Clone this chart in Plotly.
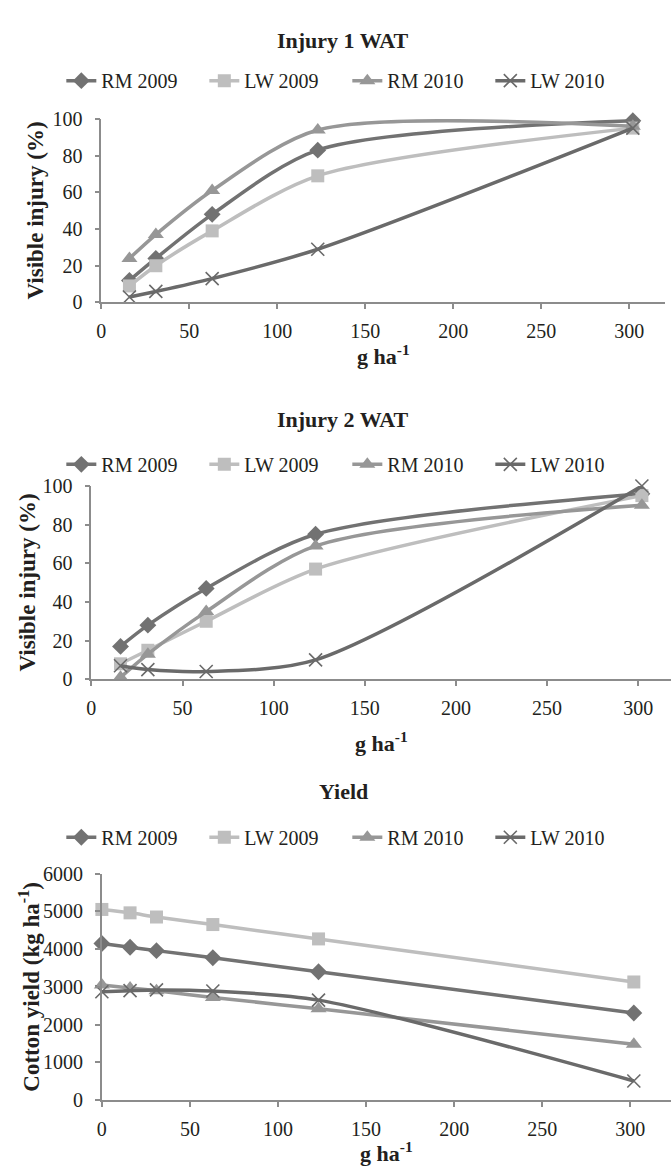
import plotly.graph_objects as go

# ---------------- data ----------------
series_names = ["RM 2009", "LW 2009", "RM 2010", "LW 2010"]

dose_injury = [16, 31, 63, 123, 302]
inj1_rm2009 = [12, 24, 48, 83, 99]
inj1_lw2009 = [9, 20, 39, 69, 95]
inj1_rm2010 = [24, 37, 61, 94, 96]
inj1_lw2010 = [3, 6, 13, 29, 95]

inj2_rm2009 = [17, 28, 47, 75, 96]
inj2_lw2009 = [8, 15, 30, 57, 95]
inj2_rm2010 = [1, 13, 35, 69, 90]
inj2_lw2010 = [7, 5, 4, 10, 100]

dose_yield = [0, 16, 31, 63, 123, 302]
yld_rm2009 = [4150, 4050, 3960, 3770, 3400, 2310]
yld_lw2009 = [5050, 4960, 4850, 4650, 4270, 3130]
yld_rm2010 = [3050, 2970, 2900, 2720, 2420, 1480]
yld_lw2010 = [2870, 2900, 2920, 2890, 2650, 510]

panel_titles = ["Injury 1 WAT", "Injury 2 WAT", "Yield"]
x_title = "g ha<sup>-1</sup>"
y_titles = ["Visible injury (%)", "Visible injury (%)", "Cotton yield (kg ha<sup>-1</sup>)"]

# ---------------- styles ----------------
W, H = 671, 1176
FONT = "Liberation Serif, Times New Roman, serif"
TXT = "#231f20"
AX = "#8c8c8c"
colors = ["#727272", "#bebebe", "#979797", "#6a6a6a"]
symbols = ["diamond", "square", "triangle-up", "x-thin"]
msizes = [13, 13, 14, 13]


def px_x(p):
    return p / W


def px_y(p):
    return 1 - p / H


fig = go.Figure()

panels = [
    (dose_injury, [inj1_rm2009, inj1_lw2009, inj1_rm2010, inj1_lw2010], "x", "y", "legend"),
    (dose_injury, [inj2_rm2009, inj2_lw2009, inj2_rm2010, inj2_lw2010], "x2", "y2", "legend2"),
    (dose_yield, [yld_rm2009, yld_lw2009, yld_rm2010, yld_lw2010], "x3", "y3", "legend3"),
]

for xs, ys_list, xa, ya, lg in panels:
    for i, ys in enumerate(ys_list):
        sym = symbols[i]
        marker = dict(symbol=sym, size=msizes[i], color=colors[i])
        if sym == "x-thin":
            marker["line"] = dict(color=colors[i], width=1.6)
        else:
            marker["line"] = dict(width=0)
        fig.add_trace(go.Scatter(
            x=xs, y=ys, name=series_names[i], mode="lines+markers",
            line=dict(color=colors[i], width=3.5, shape="spline", smoothing=0.8),
            marker=marker, xaxis=xa, yaxis=ya, legend=lg, cliponaxis=False,
        ))

# axis geometry (pixels)
geo = [
    # x0px, x300px, xendpx, y0px, ytop_px, ymax, dtick
    (97, 629, 665, 297, 110, 100, 20),
    (87, 638, 671, 681, 484, 100, 20),
    (97.6, 630, 671, 1110, 879, 6000, 1000),
]

axis_common = dict(
    showgrid=False, zeroline=False, showline=True, linecolor=AX, linewidth=1.5,
    ticks="outside", ticklen=5, tickwidth=1.5, tickcolor=AX,
    tickfont=dict(family=FONT, size=20, color=TXT),
)

layout = dict()
for k, (x0, x300, xend, y0, ytop, ymax, dt) in enumerate(geo):
    sfx = "" if k == 0 else str(k + 1)
    xr = (xend - x0) / (x300 - x0) * 300
    layout["xaxis" + sfx] = dict(
        domain=[px_x(x0), min(px_x(xend), 1)], range=[0, xr], dtick=50, tick0=0,
        anchor="y" + sfx, ticklabelstandoff=5, **axis_common)
    layout["yaxis" + sfx] = dict(
        domain=[px_y(y0), px_y(ytop)], range=[0, ymax], dtick=dt, tick0=0,
        anchor="x" + sfx, ticklabelstandoff=8, **axis_common)

legend_common = dict(
    orientation="h", xanchor="center", yanchor="middle", x=0.514,
    font=dict(family=FONT, size=20, color=TXT), bgcolor="rgba(0,0,0,0)",
    entrywidth=98, entrywidthmode="pixels", itemwidth=30, tracegroupgap=0,
)
legend_y = [71, 462, 842]
layout["legend"] = dict(y=px_y(legend_y[0]), **legend_common)
layout["legend2"] = dict(y=px_y(legend_y[1]), **legend_common)
layout["legend3"] = dict(y=px_y(legend_y[2]), **legend_common)

annotations = []
title_y = [30, 416, 795]
for k, t in enumerate(panel_titles):
    annotations.append(dict(
        text="<b>%s</b>" % t, x=px_x(341), y=px_y(title_y[k]), xref="paper", yref="paper",
        xanchor="center", yanchor="middle", showarrow=False,
        font=dict(family=FONT, size=22, color=TXT)))

xt_y = [351, 745, 1163]
for k, (x0, x300, xend, y0, ytop, ymax, dt) in enumerate(geo):
    annotations.append(dict(
        text="<b>%s</b>" % x_title, x=px_x((x0 + min(xend, W)) / 2), y=px_y(xt_y[k]),
        xref="paper", yref="paper", xanchor="center", yanchor="middle", showarrow=False,
        font=dict(family=FONT, size=22, color=TXT)))

yt_x = [31, 23, 25]
for k, (x0, x300, xend, y0, ytop, ymax, dt) in enumerate(geo):
    annotations.append(dict(
        text="<b>%s</b>" % y_titles[k], x=px_x(yt_x[k]), y=px_y((y0 + ytop) / 2),
        xref="paper", yref="paper", xanchor="center", yanchor="middle", showarrow=False,
        textangle=-90, font=dict(family=FONT, size=23, color=TXT)))

fig.update_layout(
    width=W, height=H, margin=dict(l=0, r=0, t=0, b=0),
    paper_bgcolor="white", plot_bgcolor="white",
    annotations=annotations, **layout,
)

fig.write_html(
    "out.html",
    config={"displayModeBar": False},
    post_script="document.body.style.margin='0px';document.body.style.overflow='hidden';",
)
